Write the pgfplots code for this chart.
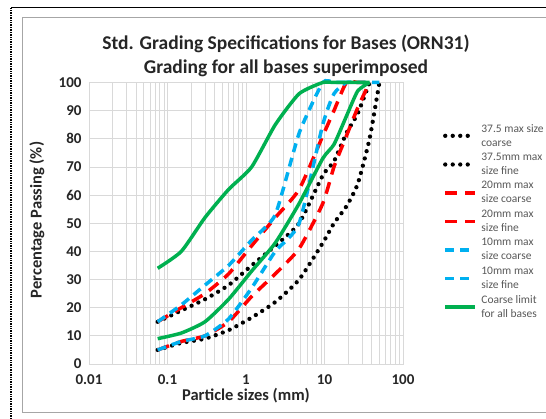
\documentclass[border=0pt]{standalone}
\usepackage{fontspec}
\setmainfont{Carlito}
\usepackage{pgfplots}
\pgfplotsset{compat=1.18}
\definecolor{exred}{HTML}{FF0000}
\definecolor{exblue}{HTML}{00B0F0}
\definecolor{exgreen}{HTML}{00B050}
\definecolor{gridgray}{HTML}{D9D9D9}
\definecolor{txtgray}{HTML}{595959}
\begin{document}
\begin{tikzpicture}[x=1pt,y=1pt]
\path[use as bounding box] (0,0) rectangle (546,419);
\fill[white] (0,0) rectangle (546,419);
\draw[black, line width=1.2pt, dash pattern=on 1pt off 0.7pt] (11,0) -- (11,411);
\draw[black, line width=1pt] (11,411) -- (546,411);
\draw[black!35, line width=0.8pt] (22,7) -- (22,402) -- (546,402);
\draw[black!35, line width=0.8pt] (22,7) -- (546,7);
\node[font=\bfseries\fontsize{19.5}{22}\selectfont, text=black!85] at (286,375) {Std. Grading Specifications for Bases (ORN31)};
\node[font=\bfseries\fontsize{19.5}{22}\selectfont, text=black!85] at (286,351) {Grading for all bases superimposed};
\node[font=\bfseries\fontsize{16.5}{19}\selectfont, text=black!85, rotate=90] at (37,199) {Percentage Passing (\%)};
\node[font=\bfseries\fontsize{16.5}{19}\selectfont, text=black!85] at (246,23) {Particle sizes (mm)};
\begin{axis}[
  at={(89pt,55pt)}, anchor=south west, scale only axis,
  width=314pt, height=281.5pt,
  xmode=log, xmin=0.01, xmax=100, ymin=0, ymax=100,
  xtick={0.01,0.1,1,10,100}, xticklabels={0.01,0.1,1,10,100},
  ytick={0,10,...,100},
  minor xtick={0.02,0.03,0.04,0.05,0.06,0.07,0.08,0.09,0.2,0.3,0.4,0.5,0.6,0.7,0.8,0.9,2,3,4,5,6,7,8,9,20,30,40,50,60,70,80,90},
  xmajorgrids, xminorgrids, ymajorgrids,
  grid style={gridgray, line width=0.8pt},
  minor grid style={gridgray, line width=0.8pt},
  axis line style={gridgray, line width=0.8pt},
  major tick length=0pt, minor tick length=0pt,
  /pgf/number format/assume math mode=true,
  ticklabel style={font=\bfseries\fontsize{15}{18}\selectfont, text=black!85},
  xticklabel style={yshift=-7pt},
  yticklabel style={xshift=-4pt},
  clip=false,
  legend image code/.code={\draw[#1] (0pt,0pt) -- (30pt,0pt);},
  legend style={at={(1.127,0.86)}, anchor=north west, draw=none, fill=none,
    font=\fontsize{11.5}{14}\selectfont, text=txtgray, cells={align=left, anchor=west},
    row sep=1.5pt, inner sep=0pt, column sep=2pt},
]
\addplot[black, line width=4.3pt, line cap=round, dash pattern=on 0pt off 7.5pt, smooth, tension=0.35] coordinates {
(0.075,5) (0.15,7.5) (0.3,9) (0.6,12) (1.18,16.5) (2.36,22) (4.75,30) (9.5,43) (13.2,50) (19,56) (26.5,64) (37.5,80) (50,100)};
\addlegendentry{37.5 max size\\coarse}
\addplot[black, line width=4.3pt, line cap=round, dash pattern=on 0pt off 7.5pt, smooth, tension=0.35] coordinates {
(0.075,15) (0.15,19) (0.3,23) (0.6,28) (1.18,35) (2.36,42) (4.75,50) (9.5,67) (13.2,72) (19,82) (26.5,89) (37.5,100)};
\addlegendentry{37.5mm max\\size fine}
\addplot[exred, line width=3.5pt, dash pattern=on 12pt off 8pt, smooth, tension=0.35] coordinates {
(0.075,5) (0.15,8) (0.3,10) (0.6,15) (1.18,24) (2.36,32) (4.75,41) (9.5,57) (13.2,70) (19,81) (26.5,91) (37.5,100)};
\addlegendentry{20mm max\\size coarse}
\addplot[exred, line width=3.5pt, dash pattern=on 12pt off 8pt, smooth, tension=0.35] coordinates {
(0.075,15) (0.15,20) (0.3,25) (0.6,32) (1.18,42) (2.36,52) (4.75,62) (9.5,81) (13.2,90) (19,100) (26.5,100) (37.5,100)};
\addlegendentry{20mm max\\size fine}
\addplot[exblue, line width=3.5pt, dash pattern=on 9pt off 6pt, smooth, tension=0.35] coordinates {
(0.075,5) (0.15,8) (0.3,10) (0.6,16) (1.18,27) (2.36,40) (4.75,50) (9.5,85) (13.2,96) (19,100) (26.5,100) (37.5,100) (50,100)};
\addlegendentry{10mm max\\size coarse}
\addplot[exblue, line width=3.5pt, dash pattern=on 9pt off 6pt, smooth, tension=0.3] coordinates {
(0.075,15) (0.15,21) (0.3,28) (0.6,35) (1.18,44) (2.36,53) (4.75,82) (9.5,100) (13.2,100) (19,100)};
\addlegendentry{10mm max\\size fine}
\addplot[exgreen, line width=3.5pt, line join=round, smooth, tension=0.35] coordinates {
(0.075,34) (0.15,40) (0.3,52) (0.6,62) (1.18,70) (2.36,85) (4.75,96) (9.5,100) (13.2,100) (19,100) (26.5,100) (37.5,100)};
\addlegendentry{Coarse limit\\for all bases}
\addplot[exgreen, line width=3.5pt, line join=round, smooth, tension=0.35, forget plot] coordinates {
(0.075,9) (0.15,11) (0.3,15) (0.6,23) (1.18,33) (2.36,43) (4.75,57) (9.5,73) (13.2,78) (19,88) (26.5,97) (37.5,100)};
\end{axis}
\end{tikzpicture}
\end{document}
